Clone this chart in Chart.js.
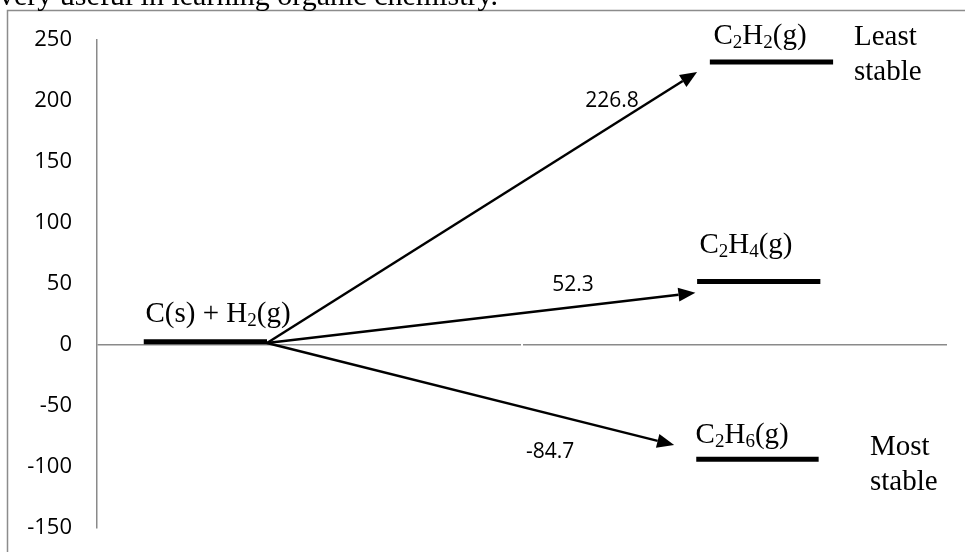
<!DOCTYPE html>
<html>
<head>
<meta charset="utf-8">
<script src="https://cdn.jsdelivr.net/npm/chart.js@4/dist/chart.umd.min.js"></script>
<style>
  html, body { margin: 0; padding: 0; background: #fff; overflow: hidden; }
  #wrap { position: relative; width: 965px; height: 552px; }
</style>
</head>
<body>
<div id="wrap"><canvas id="c" width="965" height="552"></canvas></div>
<script>
// ---- data ----
const yTicks = [-150, -100, -50, 0, 50, 100, 150, 200, 250];
const levelNames = ['C(s) + H2(g)', 'C2H2(g)', 'C2H4(g)', 'C2H6(g)'];
const levelEnergy = [2.7, 232, 52, -93.7];          // drawn level heights (kJ/mol)
const levelXStart = [5.5, 72.1, 70.6, 70.5];
const levelXEnd = [20, 86.6, 85.1, 84.9];
const deltaH = ['226.8', '52.3', '-84.7'];
const arrowFromX = 20, arrowFromY = 1.6;
const arrowToX = [70.6, 70.4, 67.9];
const arrowToY = [223.8, 42.9, -82];
// label anchors (data units)
const levelLabelX = [14.24, 78.0, 76.35, 75.9];
const levelLabelY = [18.5, 246.7, 75.4, -80.3];
const deltaLabelX = [60.6, 56, 53.3];
const deltaLabelY = [194.7, 44.3, -92.6];
const notes = [['Least', 'stable'], ['Most', 'stable']];
const noteX = [89.06, 90.94];
const noteY = [245.9, -90.2];
const topText = 'very useful in learning organic chemistry.';

const SERIF = '"Liberation Serif", "Times New Roman", serif';
const SANS = '"Open Sans", "Liberation Sans", sans-serif';

function drawFormula(ctx, text, cx, baseline) {
  // digits rendered as subscripts
  const parts = [];
  for (const ch of text) {
    const sub = /[0-9]/.test(ch);
    if (parts.length && parts[parts.length - 1].sub === sub) parts[parts.length - 1].t += ch;
    else parts.push({ t: ch, sub });
  }
  const big = '29px ' + SERIF, small = '19px ' + SERIF;
  let w = 0;
  for (const p of parts) { ctx.font = p.sub ? small : big; p.w = ctx.measureText(p.t).width; w += p.w; }
  let x = cx - w / 2;
  ctx.textAlign = 'left';
  ctx.textBaseline = 'alphabetic';
  for (const p of parts) {
    ctx.font = p.sub ? small : big;
    ctx.fillText(p.t, x, baseline + (p.sub ? 4 : 0));
    x += p.w;
  }
}

const overlay = {
  id: 'overlay',
  afterDatasetsDraw(chart) {
    const ctx = chart.ctx;
    const xs = chart.scales.x, ys = chart.scales.y;
    ctx.save();
    // frame
    ctx.strokeStyle = '#8c8c8c';
    ctx.lineWidth = 1.5;
    ctx.beginPath();
    ctx.moveTo(7.5, 560); ctx.lineTo(7.5, 10.5); ctx.lineTo(970, 10.5);
    ctx.stroke();
    // small break in the zero line
    const zy = ys.getPixelForValue(0);
    ctx.fillStyle = '#fff';
    ctx.fillRect(521, zy - 2, 2, 4);
    // top text (cut off)
    ctx.fillStyle = '#000';
    ctx.font = '30px ' + SERIF;
    ctx.textAlign = 'left';
    ctx.textBaseline = 'alphabetic';
    ctx.fillText(topText, -1, 5);
    // arrows
    const x0 = xs.getPixelForValue(arrowFromX), y0 = ys.getPixelForValue(arrowFromY);
    for (let i = 0; i < arrowToX.length; i++) {
      const x1 = xs.getPixelForValue(arrowToX[i]), y1 = ys.getPixelForValue(arrowToY[i]);
      const ang = Math.atan2(y1 - y0, x1 - x0);
      const L = 17, H = 7;
      const bx = x1 - L * Math.cos(ang), by = y1 - L * Math.sin(ang);
      ctx.strokeStyle = '#000';
      ctx.lineWidth = 2.5;
      ctx.beginPath(); ctx.moveTo(x0, y0); ctx.lineTo(bx, by); ctx.stroke();
      ctx.fillStyle = '#000';
      ctx.beginPath();
      ctx.moveTo(x1, y1);
      ctx.lineTo(bx + H * Math.sin(ang), by - H * Math.cos(ang));
      ctx.lineTo(bx - H * Math.sin(ang), by + H * Math.cos(ang));
      ctx.closePath(); ctx.fill();
    }
    // level labels
    ctx.fillStyle = '#000';
    for (let i = 0; i < levelNames.length; i++) {
      drawFormula(ctx, levelNames[i], xs.getPixelForValue(levelLabelX[i]), ys.getPixelForValue(levelLabelY[i]));
    }
    // delta H labels
    ctx.font = '21px ' + SANS;
    ctx.textAlign = 'center';
    ctx.textBaseline = 'alphabetic';
    for (let i = 0; i < deltaH.length; i++) {
      ctx.fillText(deltaH[i], xs.getPixelForValue(deltaLabelX[i]), ys.getPixelForValue(deltaLabelY[i]));
    }
    // stability notes
    ctx.font = '29px ' + SERIF;
    ctx.textAlign = 'left';
    for (let i = 0; i < notes.length; i++) {
      const px = xs.getPixelForValue(noteX[i]), py = ys.getPixelForValue(noteY[i]);
      notes[i].forEach((t, k) => ctx.fillText(t, px, py + k * 35));
    }
    ctx.restore();
  }
};

const datasets = levelNames.map((n, i) => ({
  label: n,
  data: [{ x: levelXStart[i], y: levelEnergy[i] }, { x: levelXEnd[i], y: levelEnergy[i] }],
  showLine: true,
  borderColor: '#000',
  backgroundColor: '#000',
  borderWidth: 5,
  borderCapStyle: 'butt',
  pointRadius: 0,
  pointHoverRadius: 0
}));

new Chart(document.getElementById('c'), {
  type: 'scatter',
  data: { datasets },
  options: {
    responsive: false,
    animation: false,
    events: [],
    layout: { padding: { left: 0, right: 18, top: 40, bottom: 24 } },
    plugins: { legend: { display: false }, tooltip: { enabled: false } },
    scales: {
      x: { type: 'linear', min: 0, max: 100, display: false },
      y: {
        type: 'linear', min: yTicks[0], max: yTicks[yTicks.length - 1],
        afterBuildTicks(scale) { scale.ticks = yTicks.map(v => ({ value: v })); },
        afterFit(scale) { scale.width = 97; scale.paddingTop = 0; scale.paddingBottom = 0; },
        border: { display: true, color: '#8a8a8a', width: 1.5 },
        grid: {
          drawTicks: false,
          color: c => (c.tick && c.tick.value === 0 ? '#8a8a8a' : 'rgba(0,0,0,0)'),
          lineWidth: 1.5
        },
        ticks: { padding: 25, color: '#000', font: { family: SANS, size: 22 } }
      }
    }
  },
  plugins: [overlay]
});
</script>
</body>
</html>
